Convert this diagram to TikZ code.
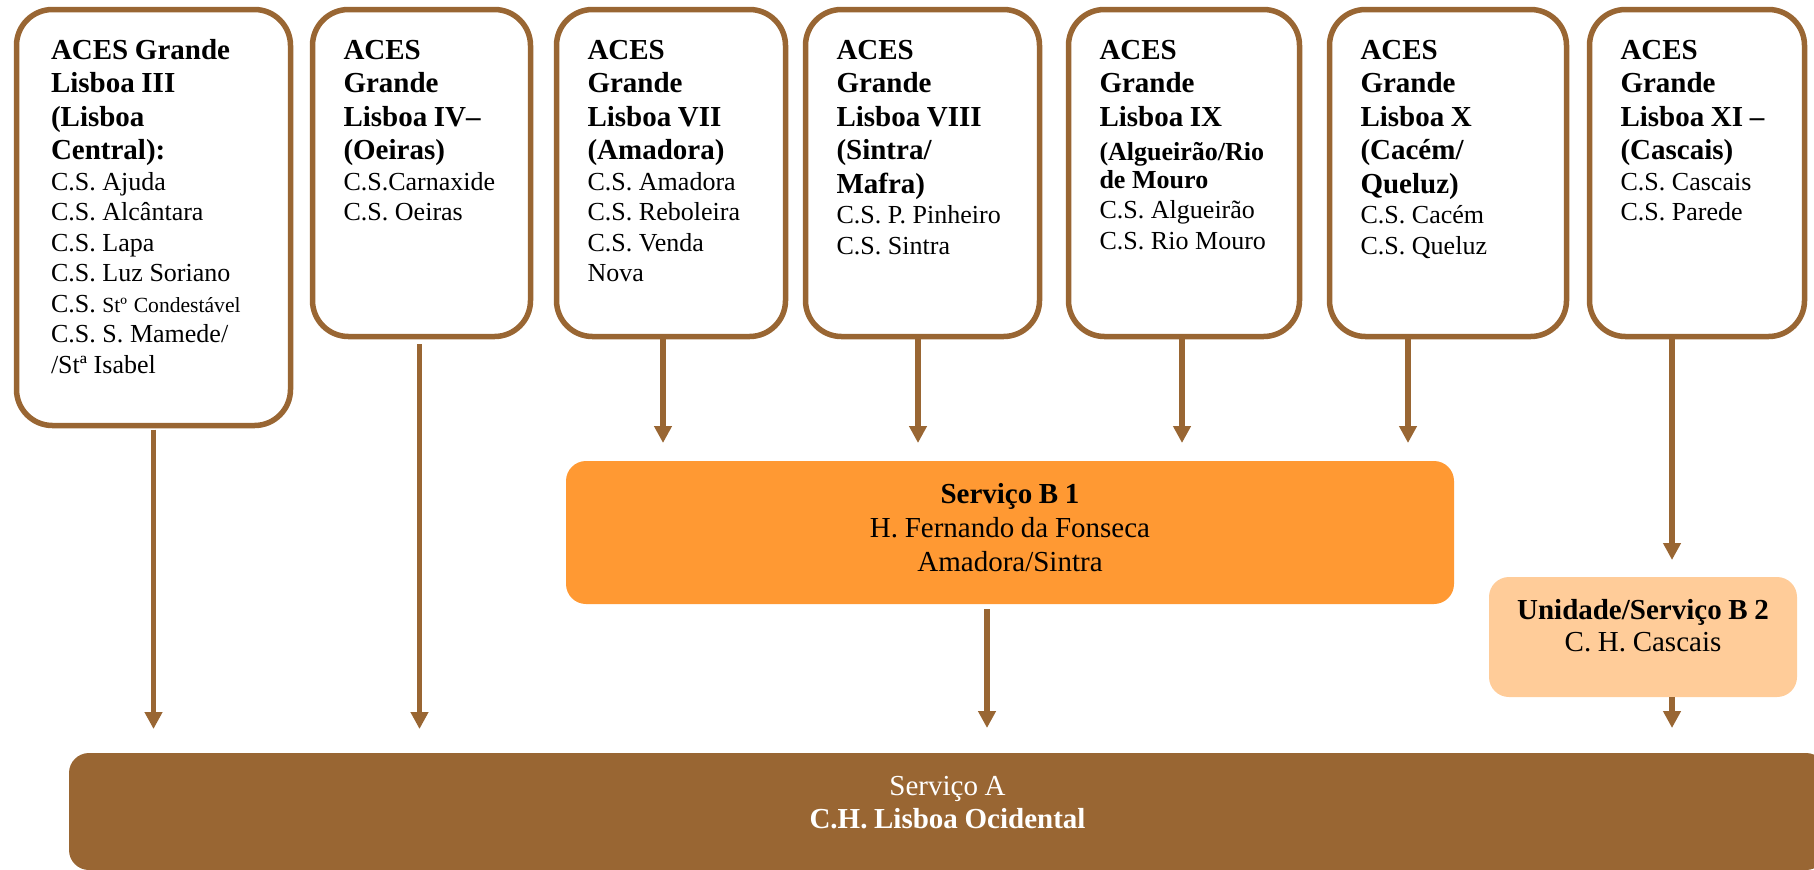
\documentclass[tikz,border=0pt]{standalone}
\usepackage{fontspec}
\setmainfont{Liberation Serif}
\usetikzlibrary{positioning, arrows.meta}

\definecolor{brownA}{HTML}{996633}
\definecolor{orangeB}{HTML}{FF9933}
\definecolor{peachB}{HTML}{FFCC99}

\newcommand{\acestitle}[1]{{\fontsize{14.5}{16.8}\selectfont\bfseries #1\par}}
\newcommand{\acessub}[1]{{\vspace{3pt}\fontsize{13}{14}\selectfont\bfseries #1\par}}
\newcommand{\acescs}[1]{{\fontsize{13}{15.25}\selectfont #1\par}}
\newcommand{\servtext}[2]{{\fontsize{14.5}{#1}\selectfont #2\par}}

\begin{document}
\begin{tikzpicture}[x=0.5pt, y=-0.5pt, >={Triangle[width=8.5pt, length=8.5pt]},
    aces/.style={draw=brownA, line width=2.75pt, rounded corners=18pt, outer sep=0pt,
      inner ysep=0pt, inner xsep=15.5pt, align=left, text width=#1,
      text height=24.75pt, text depth=138.75pt, anchor=north west},
    serv/.style={rounded corners=10pt, outer sep=0pt, inner sep=0pt, align=center,
      text width=#1, text height=21pt, anchor=north west},
    link/.style={->, color=brownA, line width=2.75pt}]
            \useasboundingbox (0,0) rectangle (1814,869);

            % ACES
            \node[aces=102.5pt, inner xsep=17.25pt, text depth=183.25pt] (aces1) at (16.5,9.5)
              {\acestitle{ACES Grande\\Lisboa III\\(Lisboa\\Central):}%
               \acescs{C.S. Ajuda\\C.S. Alcântara\\C.S. Lapa\\C.S. Luz Soriano\\C.S. {\fontsize{10.8}{12}\selectfont Stº Condestável}\\C.S. S. Mamede/\\/Stª Isabel}};
            \node[aces=78pt, right=11pt of aces1.north east, anchor=north west] (aces2)
              {\acestitle{ACES\\Grande\\Lisboa IV–\\(Oeiras)}\acescs{C.S.Carnaxide\\C.S. Oeiras}};
            \node[aces=83.5pt, right=13pt of aces2.north east, anchor=north west] (aces3)
              {\acestitle{ACES\\Grande\\Lisboa VII\\(Amadora)}\acescs{C.S. Amadora\\C.S. Reboleira\\C.S. Venda\\Nova}};
            \node[aces=86pt, right=10pt of aces3.north east, anchor=north west] (aces4)
              {\acestitle{ACES\\Grande\\Lisboa VIII\\(Sintra/\\Mafra)}\acescs{C.S. P. Pinheiro\\C.S. Sintra}};
            \node[aces=84.5pt, right=14.5pt of aces4.north east, anchor=north west] (aces5)
              {\acestitle{ACES\\Grande\\Lisboa IX}\acessub{(Algueirão/Rio\\de Mouro}\acescs{C.S. Algueirão\\C.S. Rio Mouro}};
            \node[aces=87.5pt, right=15pt of aces5.north east, anchor=north west] (aces6)
              {\acestitle{ACES\\Grande\\Lisboa X\\(Cacém/\\Queluz)}\acescs{C.S. Cacém\\C.S. Queluz}};
            \node[aces=76.5pt, right=11.5pt of aces6.north east, anchor=north west] (aces7)
              {\acestitle{ACES\\Grande\\Lisboa XI –\\(Cascais)}\acescs{C.S. Cascais\\C.S. Parede}};

            % servicos
            \node[serv=444pt, fill=orangeB, text depth=50.5pt] (b1) at (566,461)
              {\servtext{17pt}{\textbf{Serviço B 1}\\H. Fernando da Fonseca\\Amadora/Sintra}};
            \node[serv=154pt, fill=peachB, text depth=39pt] (b2) at (1489,577)
              {\servtext{16pt}{\textbf{Unidade/Serviço B 2}\\C. H. Cascais}};
            \node[serv=878.5pt, fill=brownA, text=white, text depth=37.5pt] (a) at (69,753)
              {\servtext{16.5pt}{Serviço A\\\textbf{C.H. Lisboa Ocidental}}};

            \path[link]
              (aces1.south) edge [shorten <=2pt, shorten >=12pt] (aces1.south |- a.north)
              ([xshift=-1pt]aces2.south) edge [shorten <=3.75pt, shorten >=12pt] ([xshift=-1pt]aces2.south |- a.north)
              ([xshift=-4pt]aces3.south) edge [shorten >=9pt] ([xshift=-4pt]aces3.south |- b1.north)
              ([xshift=-2.25pt]aces4.south) edge [shorten >=9pt] ([xshift=-2.25pt]aces4.south |- b1.north)
              ([xshift=-1pt]aces5.south) edge [shorten >=9pt] ([xshift=-1pt]aces5.south |- b1.north)
              ([xshift=-20pt]aces6.south) edge [shorten >=9pt] ([xshift=-20pt]aces6.south |- b1.north)
              ([xshift=-12.5pt]aces7.south) edge [shorten >=8.5pt] ([xshift=-12.5pt]aces7.south |- b2.north)
              ([xshift=-11.5pt]b1.south) edge [shorten <=2.5pt, shorten >=12.5pt] ([xshift=-11.5pt]b1.south |- a.north)
              ([xshift=14.5pt]b2.south) edge [shorten >=12.5pt] ([xshift=14.5pt]b2.south |- a.north)
            ;
          \end{tikzpicture}
\end{document}
